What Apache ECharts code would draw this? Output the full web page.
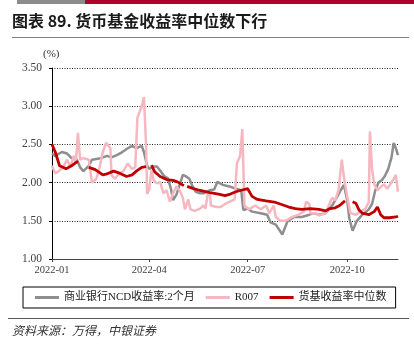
<!DOCTYPE html>
<html>
<head>
<meta charset="utf-8">
<script src="https://cdn.jsdelivr.net/npm/echarts@6/dist/echarts.min.js"></script>
<style>
  html, body { margin: 0; padding: 0; background: #fff; }
  #chart { width: 414px; height: 348px; }
</style>
</head>
<body>
<div id="chart"></div>
<script>
// Axis span and tick labels
const startDate = '2022-01-01';
const endDate = '2022-11-17';
const tickDates = ['2022-01-01', '2022-04-01', '2022-07-01', '2022-10-01'];
const tickLabels = ['2022-01', '2022-04', '2022-07', '2022-10'];
const yTicks = [1.0, 1.5, 2.0, 2.5, 3.0, 3.5];

const seriesNames = ['商业银行NCD收益率:2个月', 'R007', '货基收益率中位数'];

// 商业银行NCD收益率:2个月 (%)
const ncdDates = ['01-01','01-04','01-10','01-15','01-19','01-24','01-27','01-30','02-04','02-07',
  '02-15','02-21','02-25','03-02','03-07','03-11','03-16','03-20','03-25','03-27',
  '03-30','04-01','04-05','04-08','04-12','04-15','04-18','04-21','04-23','04-26',
  '04-29','05-02','05-05','05-08','05-11','05-14','05-18','05-21','05-24','05-27',
  '05-31','06-03','06-08','06-14','06-20','06-25','06-27','07-01','07-05','07-13',
  '07-19','07-22','07-27','08-02','08-07','08-13','08-20','08-27','08-31','09-05',
  '09-11','09-17','09-22','09-25','09-28','10-01','10-03','10-06','10-10','10-15',
  '10-21','10-24','10-27','10-30','11-02','11-05','11-08','11-11','11-13','11-15','11-17'];
const ncdValues = [2.38,2.35,2.40,2.38,2.32,2.30,2.20,2.15,2.22,2.30,
  2.32,2.35,2.33,2.36,2.40,2.44,2.48,2.45,2.48,2.40,
  2.22,2.18,2.21,2.21,2.14,2.08,2.06,1.92,1.77,1.84,
  1.97,2.10,2.08,2.05,1.95,1.88,1.86,1.86,1.88,1.90,
  1.91,2.01,1.97,1.95,1.92,1.90,1.64,1.66,1.62,1.60,
  1.58,1.48,1.45,1.32,1.50,1.55,1.55,1.58,1.60,1.58,
  1.60,1.70,1.82,1.90,1.97,1.77,1.53,1.37,1.50,1.58,
  1.65,1.72,1.90,2.00,2.03,2.09,2.18,2.33,2.52,2.45,2.36];

// R007 (%)
const r007Dates = ['01-01','01-04','01-09','01-12','01-15','01-18','01-21','01-23','01-25','01-27',
  '01-30','02-04','02-05','02-07','02-11','02-14','02-17','02-20','02-24','02-25',
  '02-28','03-03','03-08','03-12','03-16','03-19','03-21','03-25','03-27','03-29',
  '03-30','04-01','04-03','04-05','04-08','04-11','04-14','04-17','04-20','04-23',
  '04-26','04-29','05-02','05-04','05-07','05-09','05-13','05-18','05-21','05-23',
  '05-25','05-27','05-28','06-02','06-06','06-10','06-16','06-19','06-21','06-24',
  '06-26','06-28','07-02','07-08','07-13','07-18','07-21','07-25','07-27','07-31',
  '08-05','08-11','08-17','08-22','08-24','08-27','08-28','09-02','09-05','09-11',
  '09-14','09-17','09-20','09-23','09-26','09-28','10-01','10-04','10-09','10-13',
  '10-18','10-21','10-22','10-24','10-26','10-29','11-01','11-04','11-07','11-10',
  '11-13','11-15','11-17'];
const r007Values = [2.22,2.12,2.17,2.22,2.30,2.20,2.35,2.25,2.65,2.30,
  2.32,2.30,2.20,2.00,2.05,2.20,2.40,2.52,2.45,2.10,
  2.05,2.10,2.15,2.25,2.18,2.20,2.85,3.00,3.12,2.50,
  1.85,1.92,2.16,2.03,1.99,2.01,1.86,1.90,1.75,1.86,
  1.95,1.90,1.80,1.65,1.78,1.65,1.63,1.66,1.70,1.66,
  1.85,1.85,1.70,1.68,1.68,1.72,1.76,1.78,2.25,2.35,
  2.70,1.70,1.65,1.70,1.65,1.70,1.60,1.70,1.55,1.50,
  1.50,1.55,1.58,1.62,1.75,1.72,1.60,1.60,1.57,1.60,
  1.70,1.80,1.77,1.90,2.30,2.07,1.82,1.60,1.58,1.62,
  1.66,1.75,2.67,2.18,1.98,1.90,1.94,1.98,1.92,1.98,
  2.05,2.10,1.88];

// 货基收益率中位数 (%), null marks a break in the line
const medianDates = ['01-01','01-04','01-08','01-14','01-19','01-25','01-26','02-04','02-10','02-17',
  '02-20','02-27','03-05','03-11','03-16','03-20','03-25','03-29','03-31','04-03',
  '04-06','04-11','04-17','04-23','04-27','05-03','05-04','05-06','05-08','05-12',
  '05-17','05-27','06-04','06-10','06-15','06-20','06-25','07-01','07-05','07-10',
  '07-18','07-27','08-02','08-08','08-14','08-20','08-28','09-05','09-11','09-15',
  '09-20','09-24','09-29','10-03','10-06','10-09','10-12','10-15','10-21','10-26',
  '10-29','11-01','11-04','11-09','11-15','11-17'];
const medianValues = [2.50,2.40,2.22,2.18,2.22,2.28,null,2.20,2.17,2.10,
  2.11,2.15,2.12,2.08,2.10,2.15,2.20,2.21,null,2.23,
  2.14,2.08,2.04,2.03,2.01,1.96,null,1.95,1.94,1.92,
  1.90,1.87,1.85,1.83,1.85,1.88,1.90,1.92,1.82,1.78,
  1.76,1.74,1.71,1.68,1.66,1.65,1.66,1.65,1.63,1.66,
  1.67,1.70,1.76,null,1.75,1.73,1.64,1.60,1.58,1.62,
  1.68,1.58,1.54,1.54,1.55,1.56];

// Daily category axis covering the whole span
function buildDays(from, to) {
  const out = [];
  const d = new Date(from + 'T00:00:00Z');
  const end = new Date(to + 'T00:00:00Z');
  while (d <= end) {
    out.push(d.toISOString().slice(0, 10));
    d.setUTCDate(d.getUTCDate() + 1);
  }
  return out;
}
const days = buildDays(startDate, endDate);

function pairs(dates, values) {
  return dates.map((md, i) => ['2022-' + md, values[i] == null ? '-' : values[i]]);
}

const showTick = (idx, value) => tickDates.indexOf(value) !== -1;

const serifFont = '"Liberation Serif", "Times New Roman", serif';
const legendFont = '"Liberation Serif", "Noto Sans CJK SC", serif';

const chart = echarts.init(document.getElementById('chart'), null, { renderer: 'canvas' });

chart.setOption({
  animation: false,
  backgroundColor: '#ffffff',
  grid: { left: 52, right: 16, top: 68, bottom: 89, containLabel: false },
  graphic: [
    { type: 'rect', left: 17, top: 0, shape: { width: 68, height: 4 }, style: { fill: '#8c8c8c' } },
    { type: 'rect', left: 85, top: 0, shape: { width: 329, height: 4 }, style: { fill: '#b1002a' } },
    { type: 'text', left: 12, top: 13,
      style: { text: '图表 89. 货币基金收益率中位数下行', fill: '#1a1a1a',
        font: 'bold 16px "Noto Sans CJK SC", sans-serif' } },
    { type: 'line', shape: { x1: 12, y1: 37.5, x2: 409, y2: 37.5 },
      style: { stroke: '#808080', lineWidth: 1 } },
    { type: 'text', left: 43, top: 49,
      style: { text: '(%)', fill: '#333', font: '11px ' + serifFont } },
    { type: 'line', shape: { x1: 8, y1: 318.5, x2: 409, y2: 318.5 },
      style: { stroke: '#555', lineWidth: 1 } },
    { type: 'text', left: 12, top: 324,
      style: { text: '资料来源：万得，中银证券', fill: '#333',
        font: 'italic 12px "Noto Sans CJK SC", sans-serif' } }
  ],
  legend: {
    data: seriesNames,
    left: 23,
    top: 287,
    padding: [5, 9, 5, 12],
    itemGap: 11,
    itemWidth: 24,
    itemHeight: 3,
    icon: 'rect',
    borderColor: '#000',
    borderWidth: 1,
    textStyle: { fontSize: 11, color: '#222', fontFamily: legendFont }
  },
  xAxis: {
    type: 'category',
    data: days,
    boundaryGap: false,
    axisLine: { lineStyle: { color: '#444', width: 1 } },
    axisTick: { show: true, interval: showTick, length: 3, lineStyle: { color: '#444' } },
    axisLabel: {
      interval: showTick,
      margin: 6,
      color: '#404040',
      fontSize: 10.5,
      fontFamily: serifFont,
      formatter: (value) => tickLabels[tickDates.indexOf(value)] || ''
    },
    splitLine: { show: false }
  },
  yAxis: {
    type: 'value',
    min: yTicks[0],
    max: yTicks[yTicks.length - 1],
    interval: 0.5,
    axisLine: { show: true, lineStyle: { color: '#000', width: 1 } },
    axisTick: { show: true, length: 3, lineStyle: { color: '#000' } },
    axisLabel: {
      margin: 10,
      color: '#404040',
      fontSize: 11.5,
      fontFamily: serifFont,
      formatter: (v) => v.toFixed(2)
    },
    splitLine: { show: true, lineStyle: { type: [1, 1.5], color: '#222', width: 1 } }
  },
  series: [
    {
      name: seriesNames[0], type: 'line', showSymbol: false, symbol: 'none',
      data: pairs(ncdDates, ncdValues),
      itemStyle: { color: '#8e8e8e' },
      lineStyle: { color: '#8e8e8e', width: 2.5 },
      z: 2
    },
    {
      name: seriesNames[1], type: 'line', showSymbol: false, symbol: 'none',
      data: pairs(r007Dates, r007Values),
      itemStyle: { color: '#f6b7c1' },
      lineStyle: { color: '#f6b7c1', width: 2.5 },
      z: 3
    },
    {
      name: seriesNames[2], type: 'line', showSymbol: false, symbol: 'none',
      connectNulls: false,
      data: pairs(medianDates, medianValues),
      itemStyle: { color: '#c00000' },
      lineStyle: { color: '#c00000', width: 2.8 },
      z: 4
    }
  ]
});
</script>
</body>
</html>
